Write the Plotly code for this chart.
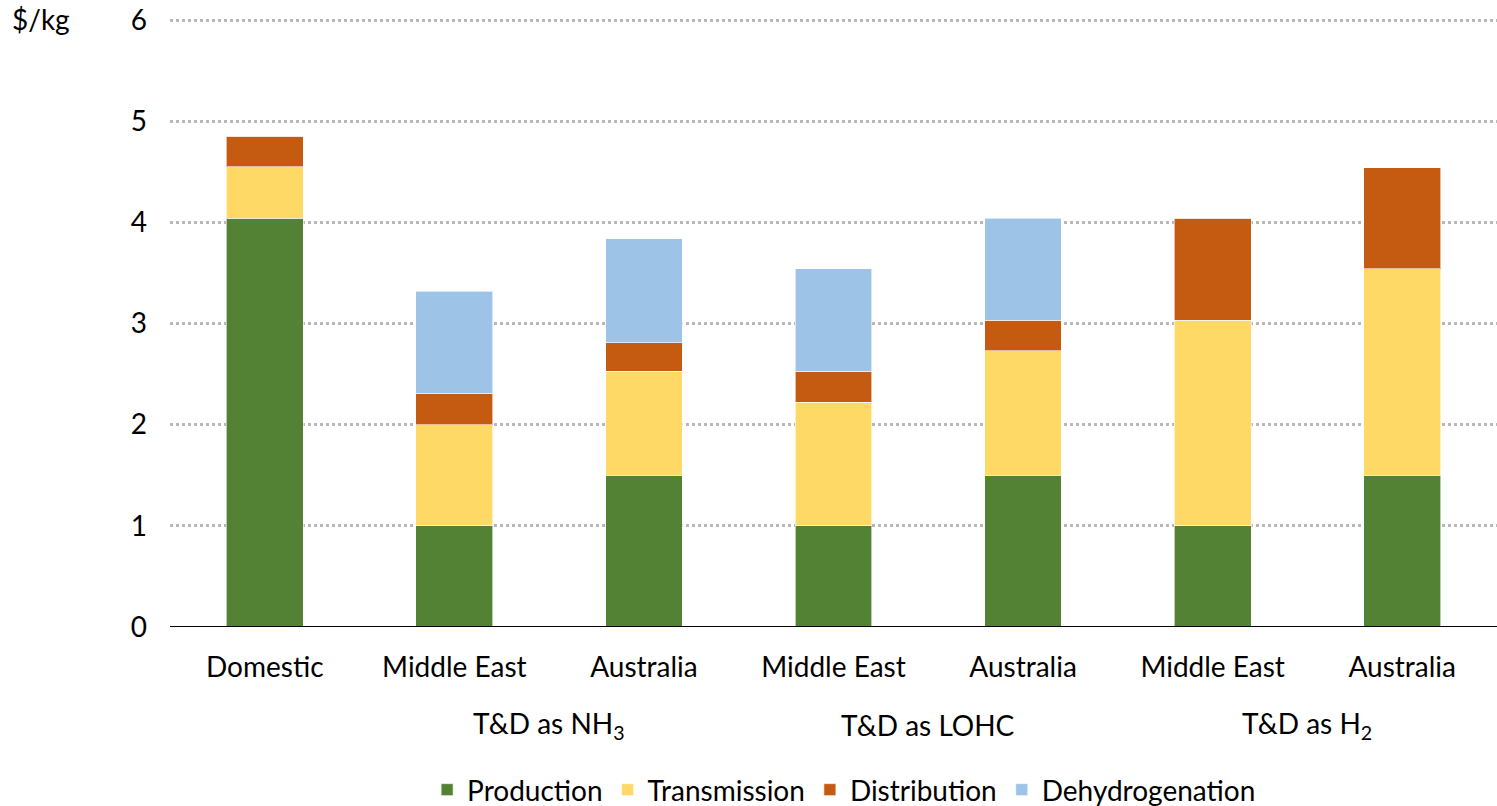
import plotly.graph_objects as go

# Cost build-up of delivered hydrogen, $/kg
categories = ["Domestic", "Middle East", "Australia", "Middle East", "Australia", "Middle East", "Australia"]
groups = ["", "T&D as NH<sub>3</sub>", "T&D as LOHC", "T&D as H<sub>2</sub>"]

production = [4.04, 1.00, 1.50, 1.00, 1.50, 1.00, 1.50]
transmission = [0.51, 1.00, 1.03, 1.22, 1.23, 2.03, 2.04]
distribution = [0.30, 0.31, 0.28, 0.31, 0.30, 1.01, 1.00]
dehydrogenation = [0.00, 1.01, 1.03, 1.01, 1.01, 0.00, 0.00]

series = [
    ("Production", production, "#548235"),
    ("Transmission", transmission, "#FFD966"),
    ("Distribution", distribution, "#C55A11"),
    ("Dehydrogenation", dehydrogenation, "#9DC3E6"),
]

FONT = "Lato"
LABEL_SIZE = 28
x_idx = list(range(len(categories)))

fig = go.Figure()
for name, vals, color in series:
    fig.add_trace(go.Bar(
        x=x_idx, y=vals, name=name,
        marker=dict(color=color, line=dict(color="rgba(255,255,255,0.6)", width=1)),
        width=0.405,
    ))

fig.update_layout(
    barmode="stack",
    width=1497, height=806,
    margin=dict(l=170, r=0, t=19, b=179, autoexpand=False),
    plot_bgcolor="white", paper_bgcolor="white",
    font=dict(family=FONT, size=LABEL_SIZE, color="#000000"),
    showlegend=True,
    legend=dict(
        orientation="h", xanchor="center", x=0.508, yanchor="middle", y=-0.268,
        font=dict(size=LABEL_SIZE), itemwidth=30, traceorder="normal",
        bgcolor="rgba(0,0,0,0)",
    ),
    xaxis=dict(
        tickmode="array", tickvals=x_idx, ticktext=categories,
        range=[-0.5, 6.5], showgrid=False, zeroline=False,
        showline=False, ticks="", tickfont=dict(size=LABEL_SIZE),
        ticklabelstandoff=21,
    ),
    yaxis=dict(
        range=[0, 6.01], tickvals=[0, 1, 2, 3, 4, 5, 6], ticks="",
        showgrid=True, gridcolor="#B8B8B8", griddash="dot", gridwidth=2.5,
        zeroline=False, showline=False, tickfont=dict(size=LABEL_SIZE),
        ticklabelstandoff=22,
    ),
)

# Horizontal baseline at zero
fig.add_shape(type="line", xref="paper", yref="y", x0=0, x1=1, y0=0, y1=0,
              line=dict(color="#000000", width=2), layer="above")

# Unit label
fig.add_annotation(text="$/kg", xref="paper", yref="paper", x=-0.097, y=1.0,
                   xanchor="center", yanchor="middle", showarrow=False,
                   font=dict(size=LABEL_SIZE))

# Group labels under each pair of bars
for i, g in enumerate(groups):
    if not g:
        continue
    center = 2 * i - 0.5
    fig.add_annotation(text=g, xref="x", yref="paper", x=center, y=-0.161,
                       xanchor="center", yanchor="middle", showarrow=False,
                       font=dict(size=LABEL_SIZE))

fig.write_html("out.html")
